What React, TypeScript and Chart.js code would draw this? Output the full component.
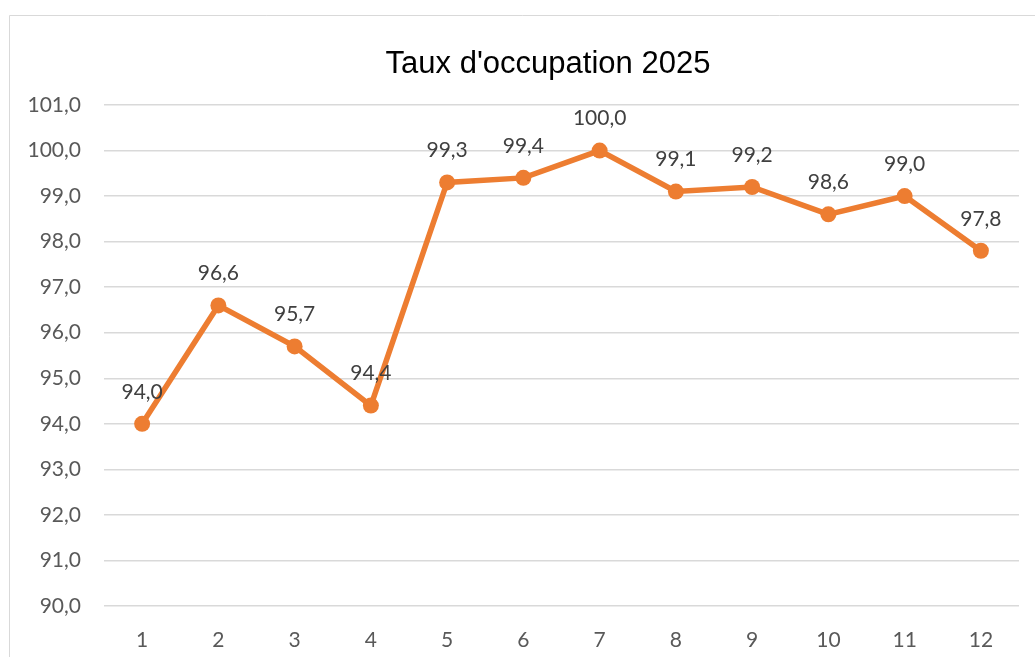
import React, { useEffect, useRef } from "react";
import { Chart, registerables } from "chart.js";

Chart.register(...registerables);

const title = "Taux d'occupation 2025";
const categories = ["1", "2", "3", "4", "5", "6", "7", "8", "9", "10", "11", "12"];
const occupation = [94.0, 96.6, 95.7, 94.4, 99.3, 99.4, 100.0, 99.1, 99.2, 98.6, 99.0, 97.8];
const yMin = 90;
const yMax = 101;
const yStep = 1;

const fmt = (v: number) => v.toFixed(1).replace(".", ",");

const LABEL_FONT = "Lato";

const dataLabels = {
  id: "dataLabels",
  afterDatasetsDraw(chart: any) {
    const ctx = chart.ctx;
    const meta = chart.getDatasetMeta(0);
    ctx.save();
    ctx.font = `21px ${LABEL_FONT}`;
    ctx.fillStyle = "#404040";
    ctx.textAlign = "center";
    ctx.textBaseline = "middle";
    meta.data.forEach((pt: any, i: number) => {
      const v = chart.data.datasets[0].data[i] as number;
      ctx.fillText(fmt(v), pt.x, pt.y - 32);
    });
    ctx.restore();
  },
};

const frameAndTitle = {
  id: "frameAndTitle",
  beforeDraw(chart: any) {
    const ctx = chart.ctx;
    ctx.save();
    ctx.fillStyle = "#ffffff";
    ctx.fillRect(0, 0, chart.width, chart.height);
    ctx.strokeStyle = "#d9d9d9";
    ctx.lineWidth = 1;
    ctx.beginPath();
    ctx.moveTo(9.5, chart.height + 2);
    ctx.lineTo(9.5, 15.5);
    ctx.lineTo(chart.width + 2, 15.5);
    ctx.stroke();
    ctx.font = "31px 'Liberation Sans'";
    ctx.fillStyle = "#000000";
    ctx.textAlign = "center";
    ctx.textBaseline = "middle";
    ctx.fillText(title, 548, 64);
    ctx.restore();
  },
};

export default function App() {
  const ref = useRef<HTMLCanvasElement | null>(null);

  useEffect(() => {
    if (!ref.current) return;
    const chart = new Chart(ref.current, {
      type: "line",
      data: {
        labels: categories,
        datasets: [
          {
            label: title,
            data: occupation,
            borderColor: "#ED7D31",
            backgroundColor: "#ED7D31",
            borderWidth: 5.5,
            pointRadius: 8,
            pointHoverRadius: 8,
            pointBackgroundColor: "#ED7D31",
            pointBorderColor: "#ED7D31",
            pointBorderWidth: 0,
            tension: 0,
          },
        ],
      },
      options: {
        responsive: false,
        animation: false,
        layout: { padding: { left: 0, right: 16, top: 105, bottom: 0 } },
        plugins: {
          legend: { display: false },
          tooltip: { enabled: false },
          title: { display: false },
        },
        scales: {
          x: {
            offset: true,
            grid: { display: false },
            border: { display: false },
            ticks: {
              color: "#595959",
              font: { family: LABEL_FONT, size: 21 },
              padding: 14,
            },
            afterFit(scale: any) {
              scale.height = 51;
            },
          },
          y: {
            min: yMin,
            max: yMax,
            border: { display: false },
            grid: { color: "#d9d9d9", lineWidth: 1.5, drawTicks: false },
            ticks: {
              stepSize: yStep,
              color: "#595959",
              font: { family: LABEL_FONT, size: 21 },
              padding: 23,
              callback: (v: any) => fmt(Number(v)),
            },
            afterFit(scale: any) {
              scale.width = 104;
            },
          },
        },
      },
      plugins: [frameAndTitle, dataLabels],
    });
    return () => chart.destroy();
  }, []);

  return (
    <div style={{ position: "fixed", left: 0, top: 0, width: 1035, height: 657 }}>
      <canvas ref={ref} width={1035} height={657} style={{ display: "block" }} />
    </div>
  );
}
